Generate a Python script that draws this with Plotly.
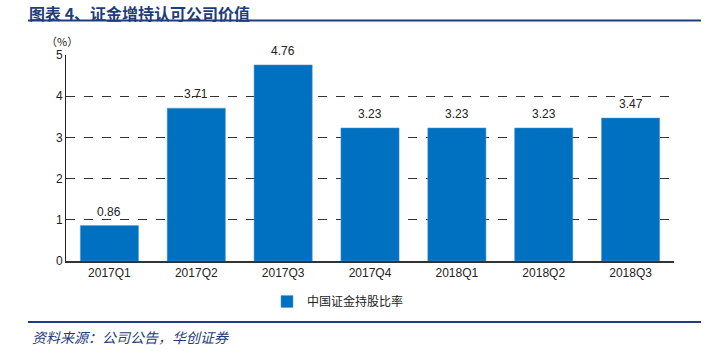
import plotly.graph_objects as go

categories = ["2017Q1", "2017Q2", "2017Q3", "2017Q4", "2018Q1", "2018Q2", "2018Q3"]
values = [0.86, 3.71, 4.76, 3.23, 3.23, 3.23, 3.47]
series_name = "中国证金持股比率"
title_text = "图表 4、证金增持认可公司价值"
source_text = "资料来源：公司公告，华创证券"
y_ticks = [0, 1, 2, 3, 4, 5]

BLUE = "#0070C0"
NAVY = "#1F3D7A"
FONT = "Liberation Sans, Arial, sans-serif"
CJK = "Noto Sans CJK SC"

PH = 206  # plot height in px
PW = 608

def py(pix):
    return (261 - pix) / PH

def px(pix):
    return (pix - 66) / PW

fig = go.Figure()
fig.add_trace(go.Bar(
    x=categories, y=values, name=series_name,
    marker=dict(color=BLUE, line=dict(color="#5B9BD5", width=0.5)),
    width=0.67,
    showlegend=True,
))

label_annotations = [
    dict(x=c, y=v, xref="x", yref="y", text=f"{v:.2f}", showarrow=False,
         yanchor="bottom", yshift=5,
         font=dict(family=FONT, size=12, color="#222"))
    for c, v in zip(categories, values)
]

fig.update_layout(
    width=708, height=355,
    margin=dict(l=66, r=34, t=55, b=94, autoexpand=False),
    paper_bgcolor="white", plot_bgcolor="white",
    bargap=0.33,
    font=dict(family=FONT, size=12, color="#222"),
    xaxis=dict(
        showline=True, linecolor="#333", linewidth=1.5,
        ticks="", tickfont=dict(family=FONT, size=12, color="#222"),
        showgrid=False,
    ),
    yaxis=dict(
        range=[0, 5], tickvals=y_ticks,
        showline=True, linecolor="#222", linewidth=1,
        showgrid=True, gridcolor="#333", griddash="dash", gridwidth=1,
        zeroline=False, ticks="", ticklen=0,
        tickfont=dict(family=FONT, size=12, color="#222"),
    ),
    legend=dict(
        orientation="h", x=px(338), xanchor="center", y=py(287), yanchor="top",
        font=dict(family=CJK, size=12, color="#222"),
        itemwidth=30,
    ),
    shapes=[
        dict(type="line", xref="paper", yref="paper", x0=px(28), x1=px(701),
             y0=py(20.5), y1=py(20.5), line=dict(color=NAVY, width=2)),
        dict(type="line", xref="paper", yref="paper", x0=px(28), x1=px(701),
             y0=py(322), y1=py(322), line=dict(color=NAVY, width=2)),
    ],
    annotations=label_annotations + [
        dict(text=f"<b>{title_text}</b>", xref="paper", yref="paper",
             x=px(28), y=py(0), xanchor="left", yanchor="top", borderpad=0,
             showarrow=False, font=dict(family=CJK, size=16, color=NAVY)),
        dict(text="（%）", xref="paper", yref="paper",
             x=px(62), y=py(41), xanchor="center", yanchor="middle",
             showarrow=False, font=dict(family=CJK, size=11, color="#222")),
        dict(text=f"<i>{source_text}</i>", xref="paper", yref="paper",
             x=px(30), y=py(337), xanchor="left", yanchor="middle",
             showarrow=False, font=dict(family=CJK, size=14, color=NAVY)),
    ],
)

fig.write_html("out.html", config={"displayModeBar": False},
               post_script="document.body.style.margin='0';")
